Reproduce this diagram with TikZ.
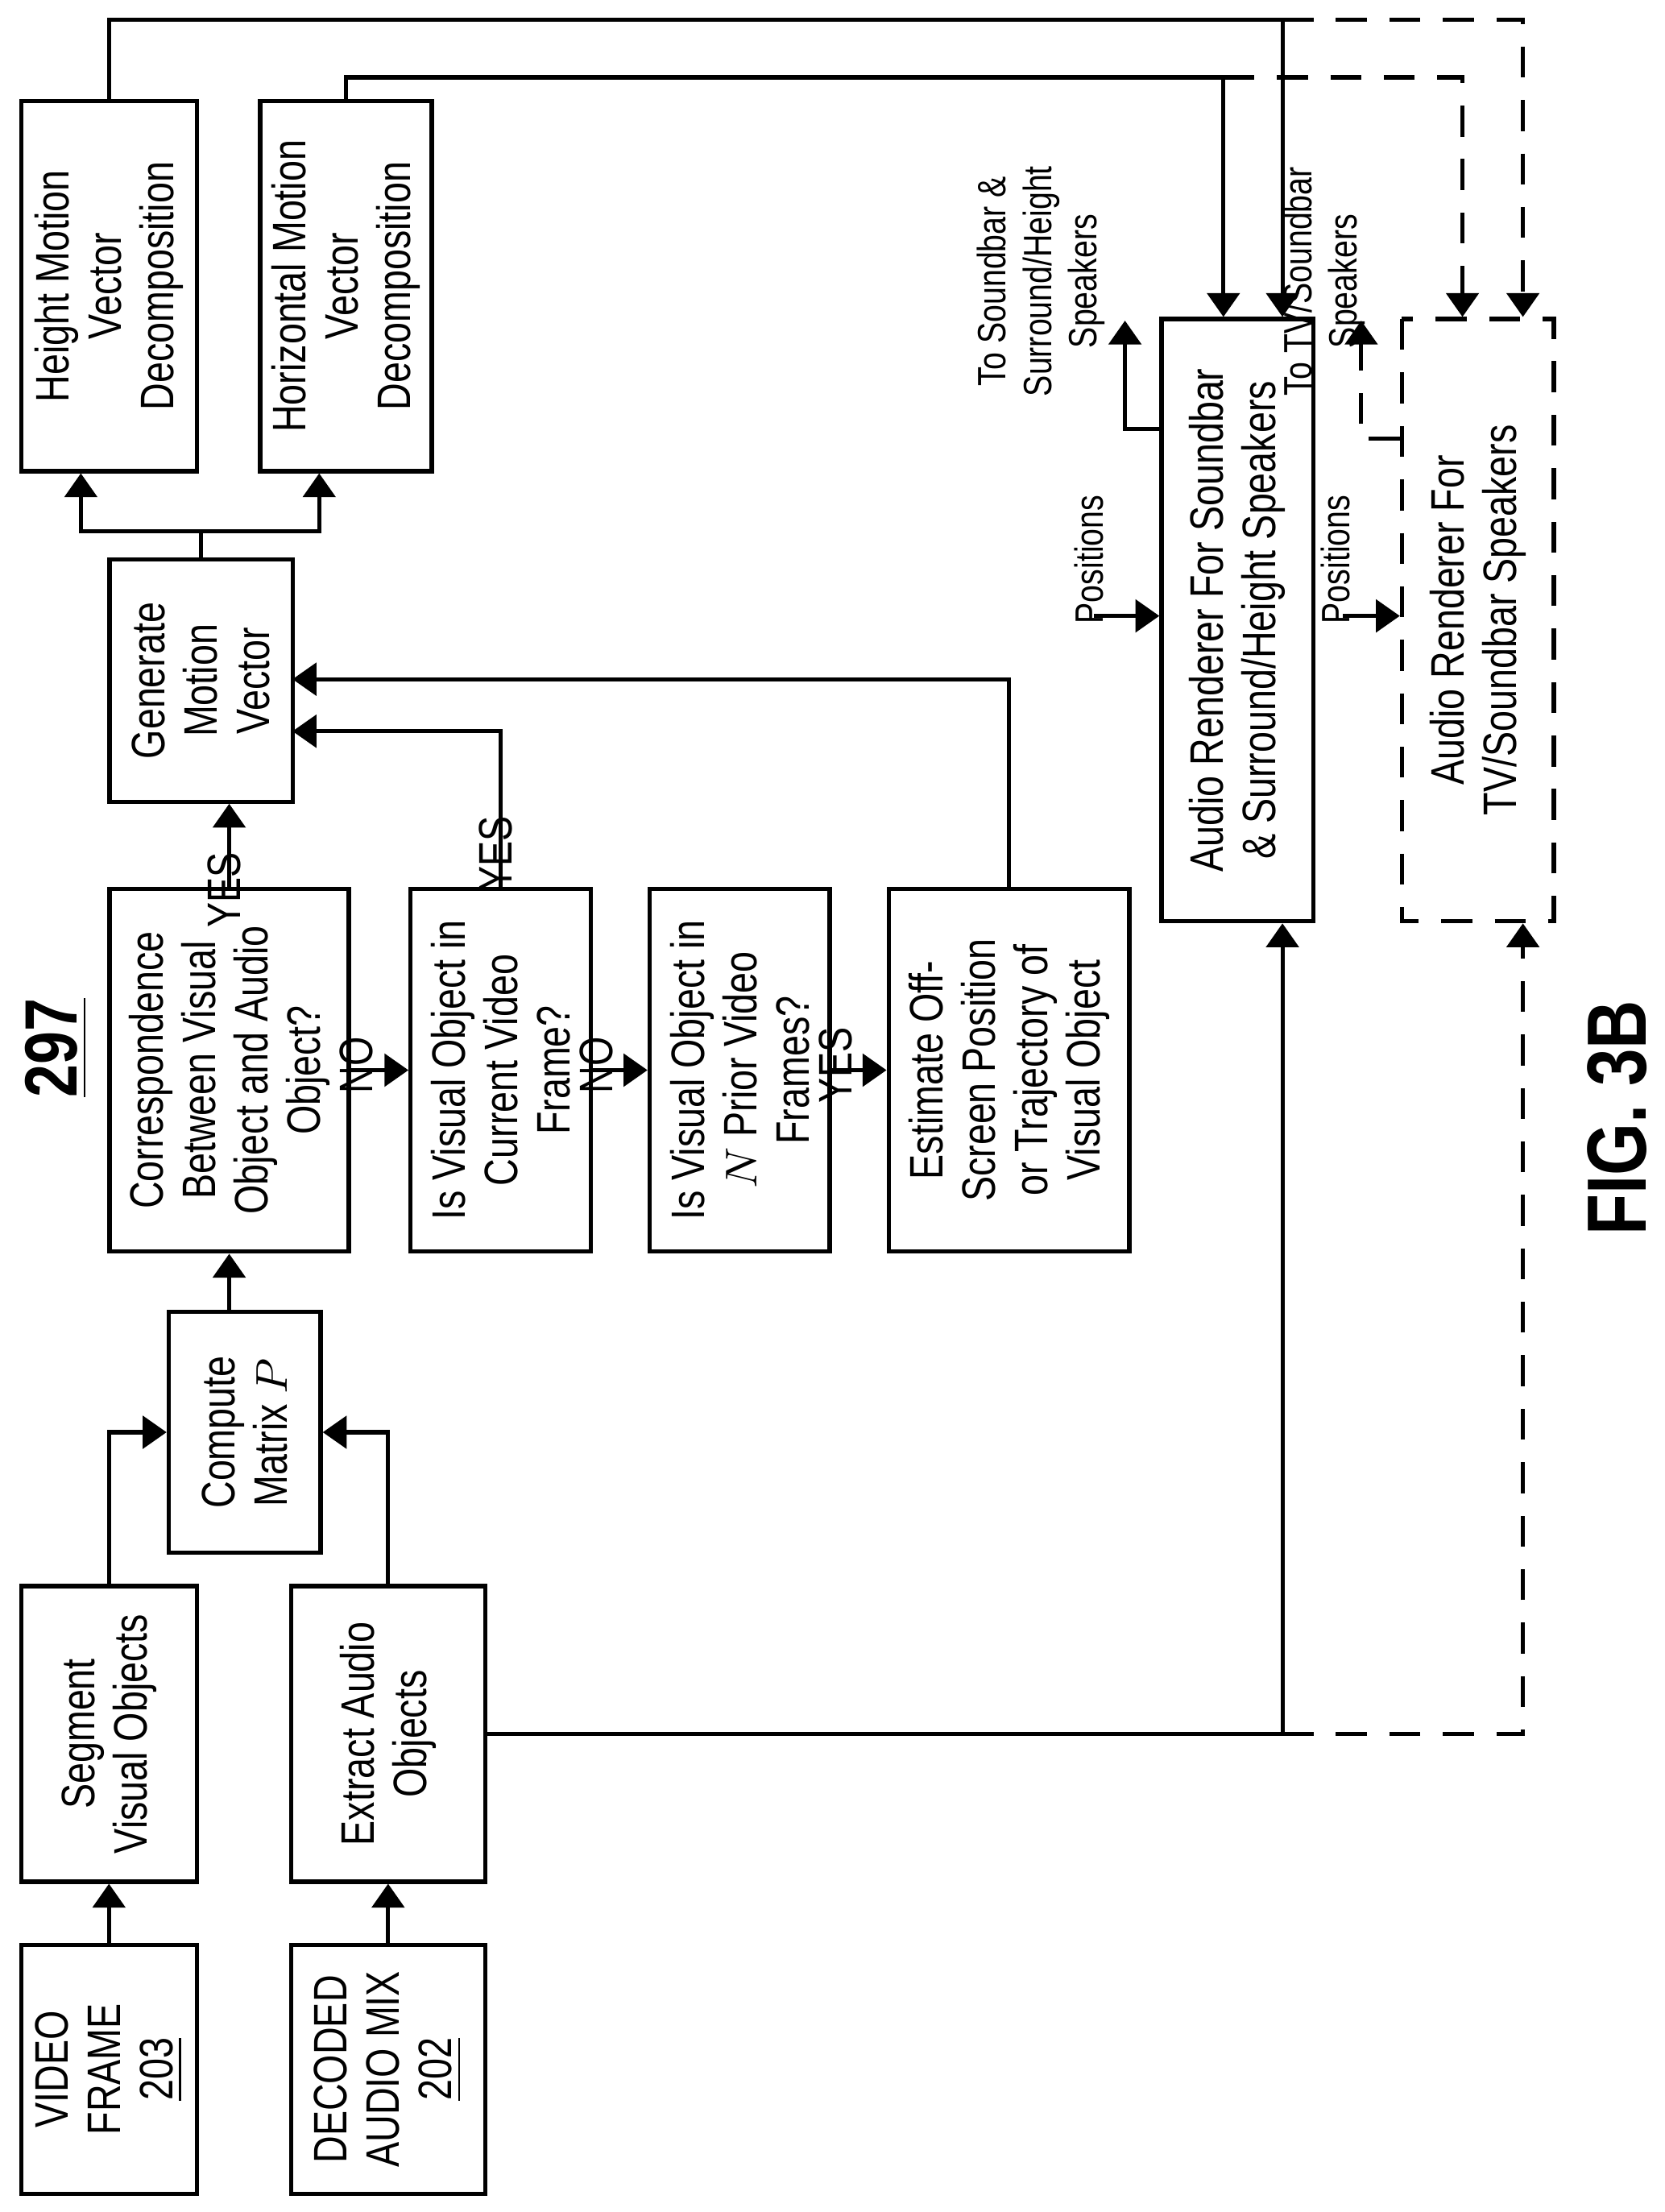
\documentclass[tikz,border=0pt]{standalone}
\usepackage{fontspec}
\setmainfont{Liberation Sans}[FakeStretch=0.8]
\usetikzlibrary{arrows.meta,calc,positioning}

\tikzset{
	box/.style={draw, line width=0.85pt, rotate=90, align=center, inner sep=1pt,
		font=\fontsize{9.5}{10.6}\selectfont},
	arr/.style={line width=0.85pt, -{Triangle[length=1.7mm,width=2.3mm]}},
	ln/.style={line width=0.85pt},
	dsh/.style={dash pattern=on 2.2mm off 1.6mm},
	lbl/.style={rotate=90, align=center, inner sep=1pt, font=\fontsize{9.5}{10.6}\selectfont},
	sml/.style={rotate=90, align=center, inner sep=1pt, font=\fontsize{8}{9.2}\selectfont}
}

\begin{document}
\begin{tikzpicture}[x=0.01cm, y=-0.01cm]
	\useasboundingbox (0,0) rectangle (1184,1573);
	
	% inputs
	\node[box, minimum width=1.77cm, minimum height=1.25cm] (vf) at (77.5,1471.5) {VIDEO\\FRAME\\\underline{203}};
	\node[box, minimum width=1.77cm, minimum height=1.38cm] (dam) at (276,1471.5) {DECODED\\AUDIO MIX\\\underline{202}};
	\node[box, minimum width=2.10cm, minimum height=1.25cm] (seg) at (77.5,1233) {Segment\\Visual Objects};
	\node[box, minimum width=2.10cm, minimum height=1.38cm] (ext) at (276,1233) {Extract Audio\\Objects};
	\node[box, minimum width=1.71cm, minimum height=1.08cm] (cmp) at (174,1018.5) {Compute\\Matrix $P$};
	
	% decisions
	\node[box, minimum width=2.58cm, minimum height=1.70cm] (cor) at (163,761) {Correspondence\\Between Visual\\Object and Audio\\Object?};
	\node[box, minimum width=2.58cm, minimum height=1.28cm] (cur) at (356,761) {Is Visual Object in\\Current Video\\Frame?};
	\node[box, minimum width=2.58cm, minimum height=1.28cm] (pri) at (526,761) {Is Visual Object in\\$N$ Prior Video\\Frames?};
	\node[box, minimum width=2.58cm, minimum height=1.71cm] (est) at (717.5,761) {Estimate Off-\\Screen Position\\or Trajectory of\\Visual Object};
	
	% motion vector
	\node[box, minimum width=1.72cm, minimum height=1.30cm] (gen) at (143,484) {Generate\\Motion\\Vector};
	\node[box, minimum width=2.63cm, minimum height=1.25cm] (hmv) at (77.5,203.5) {Height Motion\\Vector\\Decomposition};
	\node[box, minimum width=2.63cm, minimum height=1.22cm] (hzv) at (246,203.5) {Horizontal Motion\\Vector\\Decomposition};
	
	% renderers
	\node[box, minimum width=4.28cm, minimum height=1.08cm] (rsb) at (880,441) {Audio Renderer For Soundbar\\\& Surround/Height Speakers};
	\node[box, dsh, minimum width=4.28cm, minimum height=1.08cm] (rtv) at (1051,441) {Audio Renderer For\\TV/Soundbar Speakers};
	
	\node[rotate=90, font=\bfseries\fontsize{15}{16}\selectfont] (num) at (40,745) {\underline{297}};
	\node[rotate=90, font=\bfseries\fontsize{17}{18}\selectfont] (fig) at (1150,795) {FIG. 3B};
	
	\coordinate (g1) at (208,520);
	\coordinate (g2) at (208,483);
	\coordinate (split) at (143,378);
	\coordinate (t1) at (912,14);
	\coordinate (t1d) at (1083,14);
	\coordinate (t2) at (870,55);
	\coordinate (t2d) at (1040,55);
	\coordinate (b1) at (912,1233);
	\coordinate (b1d) at (1083,1233);
	\coordinate (o1) at (800,228);
	\coordinate (o2) at (968,228);
	\coordinate (p1) at (778,438);
	\coordinate (p2) at (955,438);
	
	\draw[arr] (vf.east) -- (seg.west);
	\draw[arr] (dam.east) -- (ext.west);
	\draw[arr] (seg.east) |- (cmp.north);
	\draw[arr] (ext.east) |- (cmp.south);
	\draw[arr] (cmp.east -| cor.west) -- (cor.west);
	\draw[arr] (cor.east) -- (cor.east |- gen.west) node[lbl, pos=0.5, left=1pt] {YES};
	\draw[arr] (cor.south) -- (cur.north) node[lbl, pos=0.5, above=1pt] {NO};
	\draw[arr] (cur.south) -- (pri.north) node[lbl, pos=0.5, above=1pt] {NO};
	\draw[arr] (pri.south) -- (est.north) node[lbl, pos=0.5, above=1pt] {YES};
	\draw[arr] (cur.east) |- (g1) node[lbl, pos=0.25, left=1pt] {YES};
	\draw[arr] (est.east) |- (g2);
	
	\draw[ln] (gen.east) -- (split);
	\draw[arr] (split) -| ($(hmv.west)+(-20,0)$);
	\draw[arr] (split) -| ($(hzv.west)+(-19,0)$);
	
	\draw[arr] (hmv.east) |- (t1) -- (t1 |- rsb.east);
	\draw[arr, dsh] (t1) -- (t1d) -- (t1d |- rtv.east);
	\draw[arr] (hzv.east) |- (t2) -- (t2 |- rsb.east);
	\draw[arr, dsh] (t2) -- (t2d) -- (t2d |- rtv.east);
	\draw[arr] (ext.south) -- (b1) -- (b1 |- rsb.west);
	\draw[arr, dsh] (b1) -- (b1d) -- (b1d |- rtv.west);
	
	\draw[arr] (rsb.north |- 0,305) -| (o1);
	\draw[arr, dsh] (rtv.north |- 0,312) -| (o2);
	\draw[arr] (p1) -- (p1 -| rsb.north) node[sml, pos=0.25, above=1pt, anchor=south west, xshift=-4pt] {Positions};
	\draw[arr] (p2) -- (p2 -| rtv.north) node[sml, pos=0.25, above=1pt, anchor=south west, xshift=-4pt] {Positions};
	\node[sml, anchor=south] (out1) at (790,200) {To Soundbar \&\\Surround/Height\\Speakers};
	\node[sml, anchor=south] (out2) at (975,200) {To TV/Soundbar\\Speakers};
\end{tikzpicture}
\end{document}
